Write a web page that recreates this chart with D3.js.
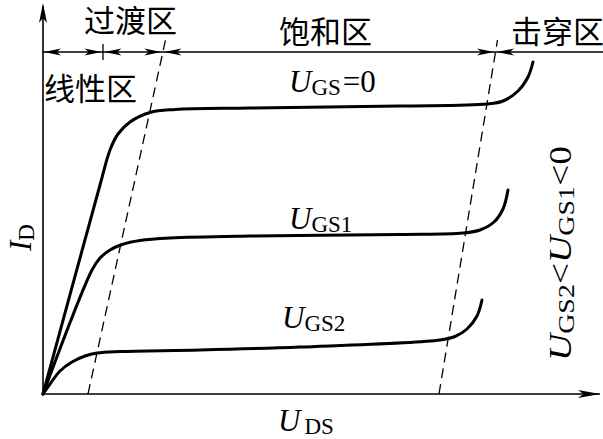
<!DOCTYPE html>
<html>
<head>
<meta charset="utf-8">
<script src="https://cdn.jsdelivr.net/npm/d3@7"></script>
<style>
  body { margin: 0; background: #fff; }
  svg { display: block; }
  .cn { font-family: "Noto Sans CJK SC", sans-serif; font-size: 31px; }
  .math { font-family: "Liberation Serif", "Times New Roman", serif; font-size: 31px; }
</style>
</head>
<body>
<div id="chart"></div>
<script>
// curve points, [U_DS, I_D] in arbitrary units
var curveUgs0 = [[0, 0], [5.7, 20.9], [6.7, 24.4], [7.5, 26.0], [8.7, 27.2], [10.7, 28.15], [13.2, 28.45],
  [20.7, 28.6], [35.7, 28.8], [44.4, 29.0], [46.0, 29.3], [47.5, 30.3], [48.5, 31.7], [49.0, 33.2]];
var curveUgs1 = [[0, 0], [4.9, 12.4], [5.7, 13.6], [6.7, 14.4], [7.9, 14.95], [9.7, 15.35], [12.7, 15.6],
  [20.7, 15.8], [35.7, 15.95], [42.0, 16.1], [43.7, 16.4], [45.1, 17.2], [46.0, 18.5], [46.5, 20.4]];
var curveUgs2 = [[0, 0], [0.7, 1.0], [1.7, 2.3], [2.9, 3.2], [4.2, 3.8], [5.4, 4.1], [7.7, 4.25],
  [15.7, 4.4], [25.7, 4.7], [39.7, 5.4], [41.2, 5.75], [42.4, 6.5], [43.4, 7.8], [43.9, 9.4]];

// boundary dashed lines
var dashLeft = [[4.5, 0], [12.25, 35.4]];
var dashRight = [[39.6, 0], [45.45, 35.4]];

// region dimension line
var dimLevel = 34.2;
var linearEnd = 6.0;
var regionNames = ['线性区', '过渡区', '饱和区', '击穿区'];

var width = 603, height = 439;

var x = d3.scaleLinear().domain([0, 56]).range([43, 603]);
var y = d3.scaleLinear().domain([0, 39]).range([394, 4]);

var svg = d3.select('#chart').append('svg')
  .attr('width', width)
  .attr('height', height);

function arrowHead(tx, ty, dir, len, w) {
  // dir: [dx, dy] unit vector pointing to tip
  var bx = tx - dir[0] * len, by = ty - dir[1] * len;
  var nx = -dir[1] * w, ny = dir[0] * w;
  var mx = tx - dir[0] * len * 0.75, my = ty - dir[1] * len * 0.75;
  return 'M' + tx + ',' + ty + 'L' + (bx + nx) + ',' + (by + ny) +
    'L' + mx + ',' + my + 'L' + (bx - nx) + ',' + (by - ny) + 'Z';
}

// axes
svg.append('line')
  .attr('x1', x(0)).attr('y1', y(0))
  .attr('x2', x(0)).attr('y2', y(38.8))
  .attr('stroke', '#000').attr('stroke-width', 1.6);
svg.append('path')
  .attr('d', arrowHead(x(0), y(39) - 1, [0, -1], 20, 4))
  .attr('fill', '#000');
svg.append('line')
  .attr('x1', x(0)).attr('y1', y(0))
  .attr('x2', x(55.7)).attr('y2', y(0))
  .attr('stroke', '#000').attr('stroke-width', 1.6);
svg.append('path')
  .attr('d', arrowHead(x(55.7), y(0), [1, 0], 22, 4))
  .attr('fill', '#000');

// dashed boundaries
var straight = d3.line().x(function(d) { return x(d[0]); }).y(function(d) { return y(d[1]); });
[dashLeft, dashRight].forEach(function(seg) {
  svg.append('path')
    .attr('d', straight(seg))
    .attr('fill', 'none')
    .attr('stroke', '#000')
    .attr('stroke-width', 1.3)
    .attr('stroke-dasharray', '10,6');
});

function crossAt(seg, level) {
  var t = (level - seg[0][1]) / (seg[1][1] - seg[0][1]);
  return seg[0][0] + t * (seg[1][0] - seg[0][0]);
}
var bounds = [0, linearEnd, crossAt(dashLeft, dimLevel), crossAt(dashRight, dimLevel)];

// dimension line
var dy = y(dimLevel);
svg.append('line')
  .attr('x1', x(0)).attr('y1', dy)
  .attr('x2', width).attr('y2', dy)
  .attr('stroke', '#000').attr('stroke-width', 1.3);
svg.append('line')
  .attr('x1', x(linearEnd)).attr('y1', dy - 8)
  .attr('x2', x(linearEnd)).attr('y2', dy + 8)
  .attr('stroke', '#000').attr('stroke-width', 1.3);

var heads = [];
heads.push([x(bounds[0]) + 1, -1]);
for (var i = 1; i < bounds.length; i++) {
  heads.push([x(bounds[i]) - 1.5, 1]);
  heads.push([x(bounds[i]) + 1.5, -1]);
}
svg.selectAll('.dimhead')
  .data(heads)
  .enter()
  .append('path')
  .attr('class', 'dimhead')
  .attr('d', function(d) { return arrowHead(d[0], dy, [d[1], 0], 17, 3.5); })
  .attr('fill', '#000');

// characteristic curves
var smooth = d3.line()
  .x(function(d) { return x(d[0]); })
  .y(function(d) { return y(d[1]); })
  .curve(d3.curveCatmullRom.alpha(0.5));

svg.selectAll('.curve')
  .data([curveUgs0, curveUgs1, curveUgs2])
  .enter()
  .append('path')
  .attr('class', 'curve')
  .attr('d', smooth)
  .attr('fill', 'none')
  .attr('stroke', '#000')
  .attr('stroke-width', 3)
  .attr('stroke-linecap', 'round')
  .attr('stroke-linejoin', 'round');

// region labels
var regionPos = [[44, 100], [84, 32], [279, 43], [511, 43]];
svg.selectAll('.cn')
  .data(regionNames)
  .enter()
  .append('text')
  .attr('class', 'cn')
  .attr('x', function(d, i) { return regionPos[i][0]; })
  .attr('y', function(d, i) { return regionPos[i][1]; })
  .text(function(d) { return d; });

// math labels: U with subscript
function mathLabel(parent, main, sub, rest, subShift) {
  var t = parent.append('text').attr('class', 'math');
  t.append('tspan').attr('font-style', 'italic').text(main);
  t.append('tspan').attr('font-size', '23px').attr('dy', 3).attr('dx', subShift || 0).text(sub);
  if (rest) t.append('tspan').attr('dy', -3).attr('dx', 2).text(rest);
  return t;
}

mathLabel(svg.append('g').attr('transform', 'translate(289,92)'), 'U', 'GS', '=0');
mathLabel(svg.append('g').attr('transform', 'translate(289,229)'), 'U', 'GS1');
mathLabel(svg.append('g').attr('transform', 'translate(282,328)'), 'U', 'GS2');
mathLabel(svg.append('g').attr('transform', 'translate(278,431)'), 'U', 'DS', null, 4);
mathLabel(svg.append('g').attr('transform', 'translate(31,251) rotate(-90)'), 'I', 'D');

// right side condition label, rotated
var cond = svg.append('g');
var ct = cond.append('text').attr('class', 'math');
ct.append('tspan').attr('font-style', 'italic').text('U');
ct.append('tspan').attr('font-size', '23px').attr('dy', 3).text('GS2');
ct.append('tspan').attr('dy', -3).text('<');
ct.append('tspan').attr('font-style', 'italic').text('U');
ct.append('tspan').attr('font-size', '23px').attr('dy', 3).text('GS1');
ct.append('tspan').attr('dy', -3).text('<0');
var condLen = ct.node().getComputedTextLength();
var condScale = 215 / condLen;
cond.attr('transform', 'translate(571,361) rotate(-90) scale(' + condScale + ',1)');
</script>
</body>
</html>
